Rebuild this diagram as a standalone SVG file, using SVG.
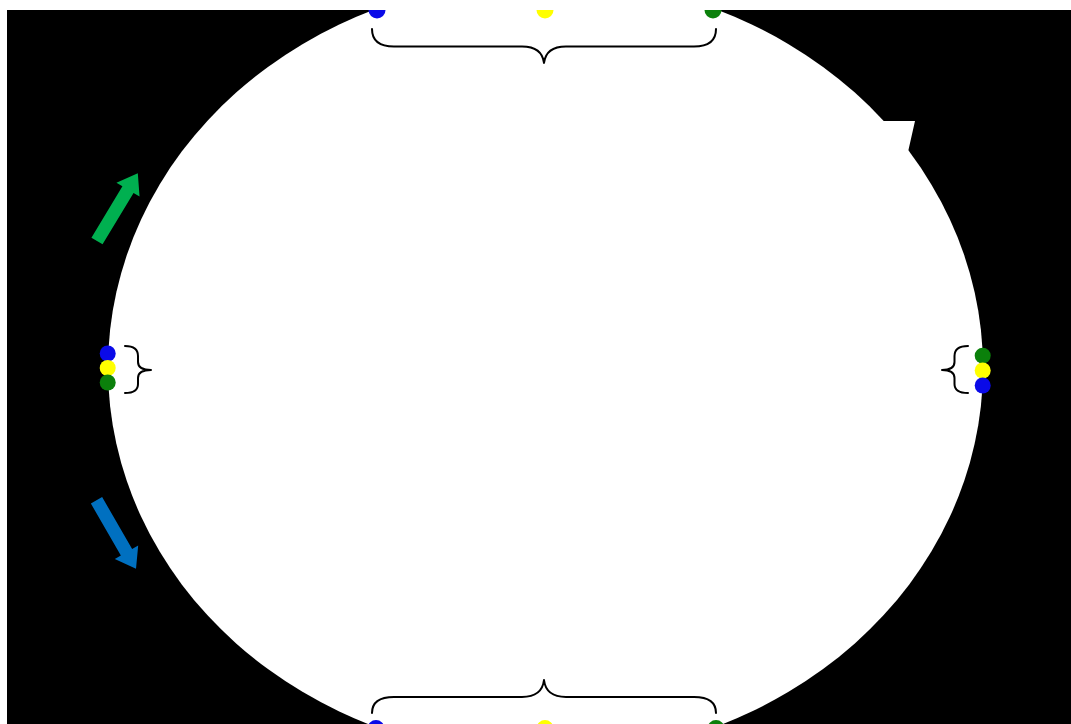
<svg xmlns="http://www.w3.org/2000/svg" width="1071" height="724" viewBox="0 0 1071 724">
<style>
.brace{fill:none;stroke:#000;stroke-width:2;stroke-linecap:round;stroke-linejoin:round}
.b{fill:#0a0ae8}
.y{fill:#ffff00}
.g{fill:#0b800b}
</style>
<defs>
<clipPath id="frame"><rect x="7" y="10" width="1064" height="714"/></clipPath>
<polygon id="arrow" points="0,-6.5 60,-6.5 60,-13.5 79,0 60,13.5 60,6.5 0,6.5"/>
</defs>
<rect x="0" y="0" width="1071" height="724" fill="#fff"/>
<g clip-path="url(#frame)">
<rect id="background" x="7" y="10" width="1064" height="714" fill="#000"/>
<g id="ring">
<ellipse cx="545.5" cy="368" rx="437.5" ry="389.5" fill="#fff"/>
<polygon points="870,114 879,121 915,121 908,152 900,150" fill="#fff"/>
</g>
<g id="dots-top">
<circle class="b" cx="377" cy="10" r="8.5"/>
<circle class="y" cx="545" cy="10" r="8.5"/>
<circle class="g" cx="713" cy="10" r="8.5"/>
</g>
<g id="dots-bottom">
<circle class="b" cx="376" cy="728.5" r="8.5"/>
<circle class="y" cx="545" cy="728.5" r="8.5"/>
<circle class="g" cx="716" cy="728.5" r="8.5"/>
</g>
<g id="dots-left">
<circle class="b" cx="107.7" cy="353.5" r="8"/>
<circle class="y" cx="107.7" cy="368" r="8"/>
<circle class="g" cx="107.7" cy="382.5" r="8"/>
</g>
<g id="dots-right">
<circle class="g" cx="982.7" cy="355.7" r="8"/>
<circle class="y" cx="982.7" cy="370.5" r="8"/>
<circle class="b" cx="982.7" cy="385.5" r="8"/>
</g>
<g id="braces">
<path class="brace" d="M372,29 Q372,46.5 394,46.5 L522,46.5 Q542,46.5 544,63 Q546,46.5 566,46.5 L694,46.5 Q716,46.5 716,29"/>
<path class="brace" d="M372,713 Q372,697 394,697 L522,697 Q542,697 544,680 Q546,697 566,697 L694,697 Q716,697 716,713"/>
<path class="brace" d="M125,346 Q138,346 138,356 L138,362 Q138,370 151,370 Q138,370 138,378 L138,384 Q138,393 125,393"/>
<path class="brace" d="M968,346 Q954.5,346 954.5,356 L954.5,362 Q954.5,370 942,370 Q954.5,370 954.5,378 L954.5,384 Q954.5,393 968,393"/>
</g>
<g id="connectors">
<use href="#arrow" fill="#00b050" transform="translate(97,241) rotate(-58.9)"/>
<use href="#arrow" fill="#0070c0" transform="translate(96.5,500.3) rotate(60)"/>
</g>
</g>
</svg>
